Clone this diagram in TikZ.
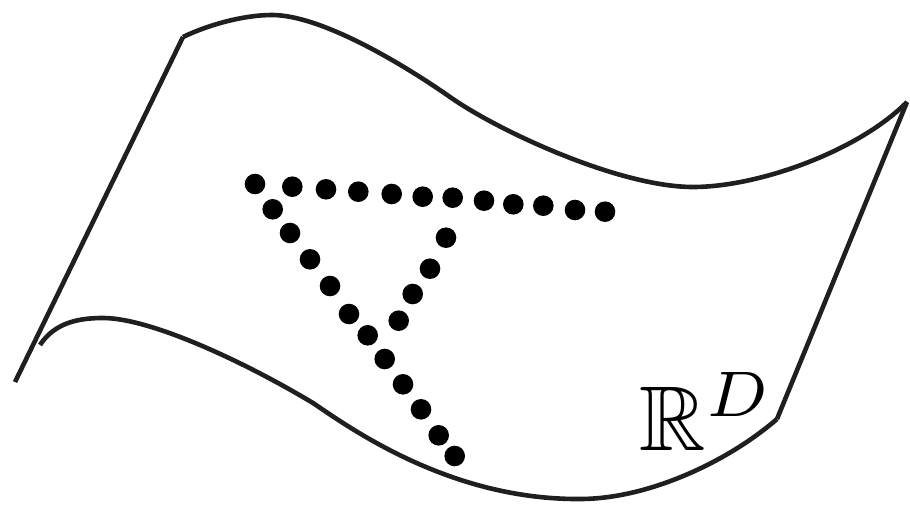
\documentclass[tikz,border=0pt]{standalone}
\usepackage{amsmath,amssymb}
\usepackage{tikz}

\begin{document}
\begin{tikzpicture}[x=1pt,y=-1pt,
 sheet/.style={draw=black!88,line width=4.6pt,line join=round},
 sample/.style={circle,fill=black,inner sep=0pt,minimum size=20.6pt}]
\useasboundingbox (0,0) rectangle (910,505);
% corners of the sheet
\coordinate (tl) at (183,37);
\coordinate (tr) at (907,102);
\coordinate (br) at (777,419);
\coordinate (bl) at (15,382);
\coordinate (bs) at (40,345);
% edges
\draw[sheet] (tl) .. controls (210,24) and (245,15) .. (272,15)
 .. controls (320,15) and (400,62) .. (450,97)
 .. controls (500,132) and (620,187) .. (693,187)
 .. controls (760,187) and (860,150) .. (tr);
\draw[sheet] (bs) .. controls (55,322) and (80,318) .. (103,318)
 .. controls (150,318) and (243,361) .. (313,403)
 .. controls (350,428) and (450,500) .. (580,499)
 .. controls (650,499) and (730,460) .. (br);
\draw[sheet] (tl)--(bl);
\draw[sheet] (tr)--(br);
% samples
\foreach \x/\y [count=\i] in {255/184,292.3/186.7,326/189.3,358.3/191.7,391.7/194,
 422.7/196.7,452.7/197.7,484/200.7,513.3/204.3,543.3/205.7,575/210,605/211.7}
 \node[sample] (t\i) at (\x,\y) {};
\foreach \x/\y [count=\i] in {272.7/209.3,290/233,310/259.3,330/286,349/314,
 367.7/335.3,384.7/359,403/384.3,421/409.3,438.7/435.3,454.7/456}
 \node[sample] (l\i) at (\x,\y) {};
\foreach \x/\y [count=\i] in {446/237.7,430/268.7,412.7/294,398.7/320.7}
 \node[sample] (r\i) at (\x,\y) {};
\node[scale=9.2,anchor=base west,inner sep=0pt] (rd) at (638,450) {$\mathbb{R}^D$};
\end{tikzpicture}
\end{document}
